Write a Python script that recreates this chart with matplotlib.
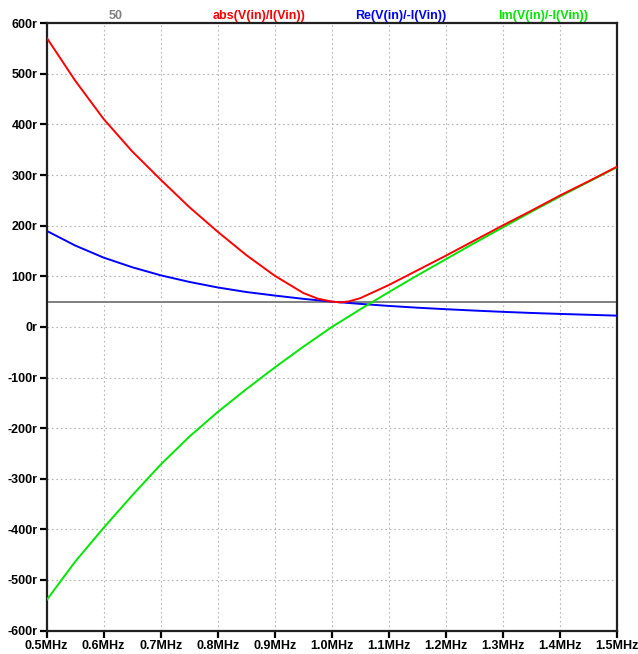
import numpy as np
import matplotlib.pyplot as plt
from matplotlib.ticker import FuncFormatter, MultipleLocator

# Частота, МГц
freq = [0.50, 0.55, 0.60, 0.65, 0.70, 0.75, 0.80, 0.85, 0.90, 0.95,
        1.00, 1.05, 1.10, 1.15, 1.20, 1.25, 1.30, 1.35, 1.40, 1.45, 1.50]
# Re(V(in)/-I(Vin))
re_z = [190, 161, 137, 118, 102, 89, 78, 69, 62, 55.5,
        50, 45.5, 41.5, 38, 35, 32.3, 29.8, 27.6, 25.7, 24, 22.3]
# Im(V(in)/-I(Vin))
im_z = [-540, -464, -397, -333, -272, -217, -168, -123, -80, -39,
        0, 35, 69, 102, 134, 166, 197, 228, 258, 287, 316]
# abs(V(in)/I(Vin)), чаще у минимума
freq_abs = [0.50, 0.55, 0.60, 0.65, 0.70, 0.75, 0.80, 0.85, 0.90, 0.95, 0.975,
            1.00, 1.015, 1.03, 1.05, 1.075, 1.10, 1.15, 1.20, 1.25, 1.30, 1.35,
            1.40, 1.45, 1.50]
abs_z = [572, 487, 411, 347, 291, 237, 188, 142, 101, 67, 56,
         50, 48.5, 50.5, 57, 70, 83, 112, 141, 171, 201, 230,
         260, 288, 317]
# Эталонная линия 50 Ом
ref_level = 50

plt.rcParams['font.family'] = 'Liberation Sans'
plt.rcParams['font.weight'] = 'bold'

fig = plt.figure(figsize=(6.38, 6.54), dpi=100)
ax = fig.add_axes([0.0729, 0.0358, 0.8947, 0.9286])

ax.axhline(ref_level, color='#808080', linewidth=1.4, zorder=2)
ax.plot(freq, re_z, color='#0000ff', linewidth=1.4, zorder=3)
ax.plot(freq, im_z, color='#00e600', linewidth=1.4, zorder=3)
ax.plot(freq_abs, abs_z, color='#ff0000', linewidth=1.4, zorder=4)

ax.set_xlim(0.5, 1.5)
ax.set_ylim(-600, 600)
ax.xaxis.set_major_locator(MultipleLocator(0.1))
ax.yaxis.set_major_locator(MultipleLocator(100))
ax.xaxis.set_major_formatter(FuncFormatter(lambda v, p: '{:.1f}MHz'.format(v)))
ax.yaxis.set_major_formatter(FuncFormatter(lambda v, p: '{:d}r'.format(int(round(v)))))

ax.grid(True, color='#b4b4b4', linestyle=(0, (1.5, 2.5)), linewidth=0.8)
for s in ax.spines.values():
    s.set_linewidth(1.6)
    s.set_color('#202020')
ax.tick_params(direction='out', length=5, width=1.6, labelsize=9, pad=1.5)
for lbl in ax.get_xticklabels() + ax.get_yticklabels():
    lbl.set_fontweight('bold')

# Подписи кривых над графиком
names = ['50', 'abs(V(in)/I(Vin))', 'Re(V(in)/-I(Vin))', 'Im(V(in)/-I(Vin))']
colors = ['#808080', '#ff0000', '#0000ff', '#00e600']
xpos = [116, 259, 401, 543]
for name, c, xp in zip(names, colors, xpos):
    fig.text(xp / 638, 1 - 16 / 654, name, color=c, fontsize=9,
             fontweight='bold', ha='center', va='center')

plt.savefig('out.png', dpi=100)
